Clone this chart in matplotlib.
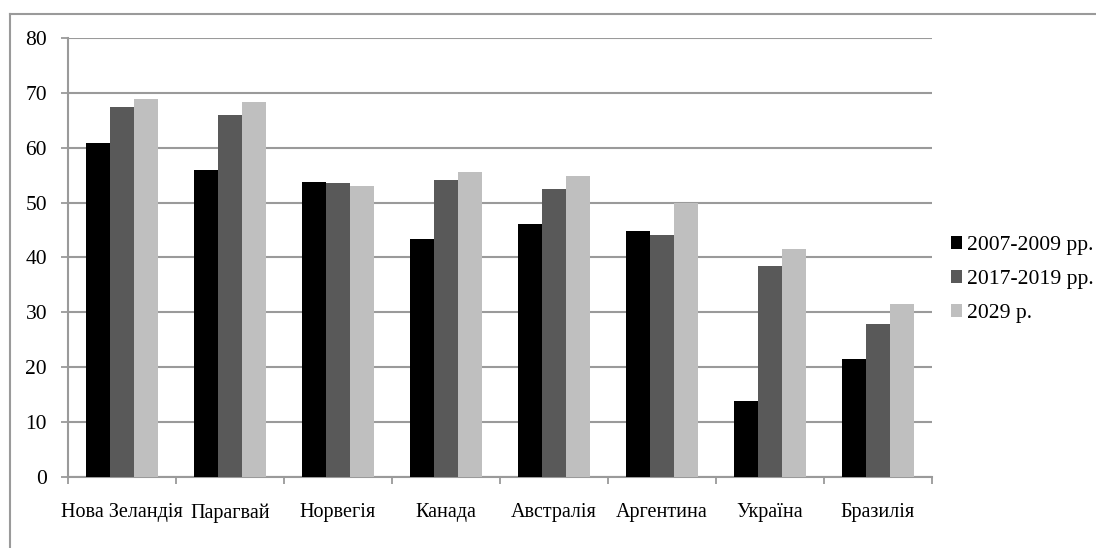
import matplotlib
matplotlib.use("Agg")
import matplotlib.pyplot as plt
from matplotlib.lines import Line2D
from matplotlib.patches import Patch
import numpy as np

plt.rcParams['font.family'] = ['Liberation Serif', 'DejaVu Serif']

categories = ["Нова Зеландія", "Парагвай", "Норвегія", "Канада",
              "Австралія", "Аргентина", "Україна", "Бразилія"]
series_names = ["2007-2009 рр.", "2017-2019 рр.", "2029 р."]
v_2007_2009 = [60.9, 56.0, 53.8, 43.4, 46.1, 44.8, 13.9, 21.5]
v_2017_2019 = [67.4, 65.9, 53.5, 54.2, 52.5, 44.1, 38.4, 27.9]
v_2029 = [68.9, 68.4, 53.0, 55.6, 54.9, 49.9, 41.5, 31.6]
y_ticks = [0, 10, 20, 30, 40, 50, 60, 70, 80]

colors = ["#000000", "#595959", "#BFBFBF"]
grid_c = "#9A9A9A"

fig = plt.figure(figsize=(10.96, 5.48), dpi=100)
ax = fig.add_axes([0.062, 0.1296, 0.7884, 0.8011])

x = np.arange(len(categories))
w = 1 / 4.5
for i, vals in enumerate([v_2007_2009, v_2017_2019, v_2029]):
    ax.bar(x + (i - 1) * w, vals, width=w, color=colors[i], zorder=3,
           label=series_names[i])

ax.set_xlim(-0.5, len(categories) - 0.5)
ax.set_ylim(0, 80)
ax.set_yticks(y_ticks)
ax.set_yticklabels([str(t) for t in y_ticks], fontsize=15.5)
ax.yaxis.grid(True, color=grid_c, linewidth=1.5, zorder=0)
ax.set_axisbelow(True)

ax.set_xticks(x)
ax.set_xticklabels(categories, fontsize=14.5)
ax.set_xticks(np.arange(-0.5, len(categories)), minor=True)
ax.tick_params(axis='x', which='major', length=0, pad=19)
ax.tick_params(axis='x', which='minor', length=5, width=1.3, color=grid_c, direction='out')
ax.tick_params(axis='y', length=5, width=1.3, color=grid_c, pad=10)

for s in ['top', 'right']:
    ax.spines[s].set_visible(False)
for s in ['left', 'bottom']:
    ax.spines[s].set_color(grid_c)
    ax.spines[s].set_linewidth(1.5)

handles = [Patch(facecolor=c, edgecolor='none') for c in colors]
leg = fig.legend(handles, series_names, loc='upper left',
                 bbox_to_anchor=(951 / 1096, 1 - 236 / 548), frameon=False,
                 fontsize=15.6, handlelength=0.52, handleheight=0.52,
                 handletextpad=0.2, labelspacing=0.7, borderaxespad=0,
                 borderpad=0)

# outer chart frame (top and left edges visible)
fig.add_artist(Line2D([10 / 1096, 1.0], [1 - 14 / 548, 1 - 14 / 548],
                      transform=fig.transFigure, color="#9A9A9A", linewidth=1.5))
fig.add_artist(Line2D([10 / 1096, 10 / 1096], [0.0, 1 - 14 / 548],
                      transform=fig.transFigure, color="#9A9A9A", linewidth=1.5))

fig.savefig("out.png", dpi=100)
